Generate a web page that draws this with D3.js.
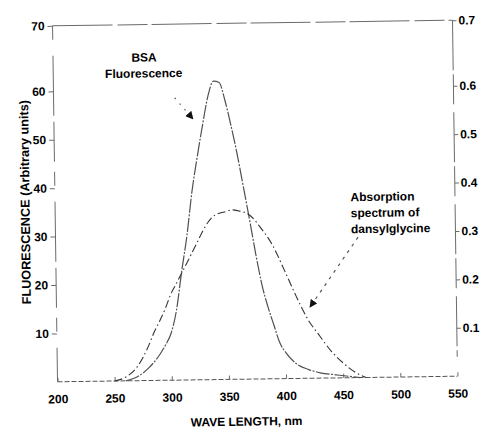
<!DOCTYPE html>
<html>
<head>
<meta charset="utf-8">
<script src="https://cdn.jsdelivr.net/npm/d3@7/dist/d3.min.js"></script>
<style>
  html, body { margin: 0; padding: 0; background: #fff; }
  svg { display: block; }
  text { font-family: "Liberation Sans", Arial, Helvetica, sans-serif; font-weight: bold; fill: #000; }
</style>
</head>
<body>
<svg id="chart" width="482" height="430"></svg>
<script>
// ---- data ----
const xTicks = [200, 250, 300, 350, 400, 450, 500, 550];
const leftTicks = [10, 20, 30, 40, 50, 60, 70];
const rightTicks = [0.1, 0.2, 0.3, 0.4, 0.5, 0.6, 0.7];

// BSA fluorescence (arbitrary units, left axis)
const fluorWl  = [260, 270, 280, 290, 295, 300, 305, 310, 315, 320, 325, 330, 335, 340, 345, 350, 355, 360, 365, 370, 375, 380, 385, 390, 395, 400, 410, 420, 430, 445, 465];
const fluorVal = [0, 0.8, 2.6, 5.4, 7.3, 9.7, 14.5, 22.5, 29.8, 39.0, 46.1, 52.6, 58.5, 61.2, 61.0, 57.5, 52.3, 46.4, 39.7, 32.9, 25.8, 19.5, 14.9, 11.1, 7.4, 5.4, 2.9, 1.8, 1.1, 0.6, 0];

// Absorption spectrum of dansylglycine (right axis)
const absWl  = [250, 260, 270, 280, 285, 290, 295, 300, 305, 310, 320, 325, 330, 340, 350, 355, 360, 370, 380, 390, 400, 410, 420, 430, 440, 450, 460, 470];
const absVal = [0, 0.008, 0.029, 0.071, 0.099, 0.122, 0.147, 0.177, 0.199, 0.221, 0.266, 0.289, 0.312, 0.340, 0.347, 0.350, 0.348, 0.339, 0.311, 0.275, 0.223, 0.169, 0.121, 0.087, 0.055, 0.031, 0.012, 0];

// annotation arrows: [wavelength, value] tail -> head
const fluorArrowWl = [306, 321.7];
const fluorArrowVal = [58.3, 53.9];
const absArrowWl = [464.7, 421.8];
const absArrowVal = [0.290, 0.147];

const fluorLabel = ["BSA", "Fluorescence"];
const absLabel = ["Absorption", "spectrum of", "dansylglycine"];
const xTitle = "WAVE LENGTH, nm";
const yTitle = "FLUORESCENCE (Arbitrary units)";

// ---- layout ----
const svg = d3.select("#chart");
const plotLeft = 55, plotRight = 455, plotBottom = 379, plotY60 = 88.5, plotTop = 23;

// scanned figure is slightly rotated
const g = svg.append("g").attr("transform", "rotate(-0.8, 256, 200)");

const x = d3.scaleLinear().domain([200, 550]).range([plotLeft, plotRight]);
// the scanned axes are stretched in the top interval
const yL = d3.scaleLinear().domain([0, 60, 70]).range([plotBottom, plotY60, plotTop]);
const yR = d3.scaleLinear().domain([0, 0.6, 0.7]).range([plotBottom, plotY60, plotTop]);

const axisColor = "#6a6a6a";

// frame lines
g.append("line")
  .attr("x1", x(200)).attr("x2", x(550)).attr("y1", yL(70)).attr("y2", yL(70))
  .attr("stroke", axisColor).attr("stroke-width", 1).attr("stroke-dasharray", "60,5,30,4");
g.append("line")
  .attr("x1", x(200)).attr("x2", x(200)).attr("y1", yL(70)).attr("y2", yL(0))
  .attr("stroke", axisColor).attr("stroke-width", 1).attr("stroke-dasharray", "14,16,60,6,40,10");
g.append("line")
  .attr("x1", x(550)).attr("x2", x(550)).attr("y1", yR(0.7)).attr("y2", yR(0.04))
  .attr("stroke", axisColor).attr("stroke-width", 1).attr("stroke-dasharray", "50,4,30,8");
g.append("line")
  .attr("x1", x(200)).attr("x2", x(550)).attr("y1", yL(0)).attr("y2", yL(0))
  .attr("stroke", "#555").attr("stroke-width", 1).attr("stroke-dasharray", "5,2");

function styleTicks(sel) {
  sel.select(".domain").remove();
  sel.selectAll(".tick line").attr("stroke", axisColor);
  sel.selectAll(".tick text").attr("font-size", 12).attr("fill", "#000")
    .style("font-family", '"Liberation Sans", Arial, sans-serif').style("font-weight", "bold");
}

// axes
const xAxis = d3.axisBottom(x).tickValues(xTicks).tickSizeInner(-4).tickSizeOuter(0).tickPadding(13);
const gx = g.append("g").attr("transform", `translate(0,${yL(0)})`).call(xAxis);
styleTicks(gx);

const yAxisL = d3.axisLeft(yL).tickValues(leftTicks).tickSizeInner(5).tickSizeOuter(0).tickPadding(3);
const gyl = g.append("g").attr("transform", `translate(${plotLeft},0)`).call(yAxisL);
styleTicks(gyl);

const yAxisR = d3.axisRight(yR).tickValues(rightTicks).tickSizeInner(4).tickSizeOuter(0).tickPadding(2)
  .tickFormat(d3.format(".1f"));
const gyr = g.append("g").attr("transform", `translate(${plotRight},0)`).call(yAxisR);
styleTicks(gyr);

// curves
const fluorData = fluorWl.map((w, i) => [w, fluorVal[i]]);
const absData = absWl.map((w, i) => [w, absVal[i]]);

g.append("path")
  .datum(fluorData)
  .attr("fill", "none").attr("stroke", "#505050").attr("stroke-width", 1.2)
  .attr("stroke-dasharray", "14,1.5,2,1.5")
  .attr("d", d3.line().x(d => x(d[0])).y(d => yL(d[1])).curve(d3.curveMonotoneX));

g.append("path")
  .datum(absData)
  .attr("fill", "none").attr("stroke", "#333").attr("stroke-width", 1.1)
  .attr("stroke-dasharray", "8,3,1.5,3")
  .attr("d", d3.line().x(d => x(d[0])).y(d => yR(d[1])).curve(d3.curveMonotoneX));

// arrow marker
const defs = svg.append("defs");
defs.append("marker")
  .attr("id", "ah").attr("viewBox", "0 0 10 10").attr("refX", 9).attr("refY", 5)
  .attr("markerWidth", 8).attr("markerHeight", 8).attr("markerUnits", "userSpaceOnUse")
  .attr("orient", "auto")
  .append("path").attr("d", "M0,0 L10,5 L0,10 Z").attr("fill", "#111");

// annotation arrows (pointing at the curves)
g.append("line")
  .attr("x1", x(fluorArrowWl[0])).attr("y1", yL(fluorArrowVal[0]))
  .attr("x2", x(fluorArrowWl[1])).attr("y2", yL(fluorArrowVal[1]))
  .attr("stroke", "#555").attr("stroke-width", 1.2).attr("stroke-dasharray", "1.5,6")
  .attr("marker-end", "url(#ah)");

g.append("line")
  .attr("x1", x(absArrowWl[0])).attr("y1", yR(absArrowVal[0]))
  .attr("x2", x(absArrowWl[1])).attr("y2", yR(absArrowVal[1]))
  .attr("stroke", "#555").attr("stroke-width", 1.2).attr("stroke-dasharray", "3,5")
  .attr("marker-end", "url(#ah)");

// annotation text
g.append("text").attr("x", 146).attr("y", 60).attr("text-anchor", "middle")
  .attr("font-size", 12).text(fluorLabel[0]);
g.append("text").attr("x", 145.5).attr("y", 76).attr("text-anchor", "middle")
  .attr("font-size", 12).text(fluorLabel[1]);
absLabel.forEach((t, i) => {
  g.append("text").attr("x", 350.5).attr("y", 202.5 + i * 16)
    .attr("font-size", 12).text(t);
});

// axis titles
g.append("text").attr("x", 243.5).attr("y", 425.5).attr("text-anchor", "middle")
  .attr("font-size", 12).text(xTitle);
g.append("text").attr("transform", "translate(29.5,199) rotate(-90)")
  .attr("text-anchor", "middle").attr("font-size", 12.7).text(yTitle);
</script>
</body>
</html>
